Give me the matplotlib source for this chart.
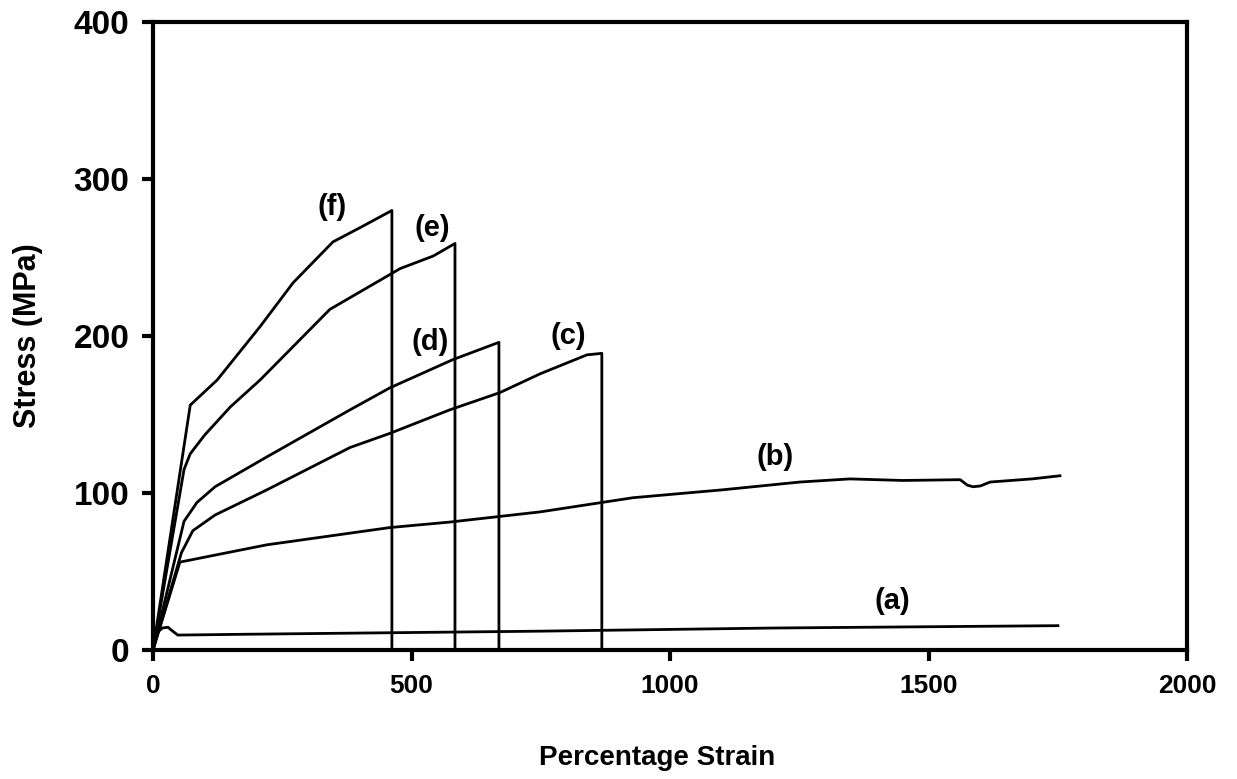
import matplotlib.pyplot as plt
import numpy as np

plt.rcParams['font.family'] = ['Liberation Sans', 'DejaVu Sans']

# stress-strain curves (strain %, stress MPa)
a_x = [0, 8, 18, 29, 38, 48, 172, 749, 1200, 1750]
a_y = [0, 11, 14, 14.5, 12, 9.5, 10, 12, 14, 15.5]

b_x = [0, 52, 220, 458, 574, 749, 928, 1100, 1251, 1348, 1450, 1561, 1575, 1586, 1600, 1619, 1700, 1754]
b_y = [0, 56, 67, 78, 81.5, 88, 97, 102, 107, 109, 108, 108.5, 105, 104, 104.5, 107, 109, 111]

c_x = [0, 55, 77, 120, 220, 381, 458, 574, 671, 749, 839, 868, 868]
c_y = [0, 62, 76, 86, 102, 129, 138, 153, 164, 176, 188, 189, 0]

d_x = [0, 60, 85, 120, 220, 381, 458, 580, 669, 669]
d_y = [0, 82, 94, 104, 123, 153, 167, 185, 196, 0]

e_x = [0, 60, 72, 100, 150, 207, 342, 478, 542, 584, 584]
e_y = [0, 115, 125, 137, 155, 172, 217, 243, 251, 259, 0]

f_x = [0, 72, 124, 207, 271, 348, 400, 462, 462]
f_y = [0, 156, 172, 206, 234, 260, 269, 280, 0]

curves = [(a_x, a_y), (b_x, b_y), (c_x, c_y), (d_x, d_y), (e_x, e_y), (f_x, f_y)]

# curve labels and where they sit
labels = ['(a)', '(b)', '(c)', '(d)', '(e)', '(f)']
label_x = [1429, 1203, 803, 536, 540, 346]
label_y = [31, 123, 200, 196, 269, 282]

fig = plt.figure(figsize=(12.37, 7.79), dpi=100)
ax = fig.add_axes([0.1237, 0.1656, 0.836, 0.806])

for cx, cy in curves:
    ax.plot(cx, cy, color='black', linewidth=2.0)

for lab, lx, ly in zip(labels, label_x, label_y):
    ax.text(lx, ly, lab, fontsize=21, fontweight='bold', ha='center', va='center')

ax.set_xlim(0, 2000)
ax.set_ylim(0, 400)
ax.set_xticks([0, 500, 1000, 1500, 2000])
ax.set_yticks([0, 100, 200, 300, 400])

for s in ax.spines.values():
    s.set_linewidth(3)
ax.tick_params(direction='out', length=8, width=3, pad=9)
ax.set_xticklabels(['0', '500', '1000', '1500', '2000'], fontsize=19, fontweight='bold')
ax.set_yticklabels(['0', '100', '200', '300', '400'], fontsize=24, fontweight='bold')

ax.set_xlabel('Percentage Strain', fontsize=20, fontweight='bold')
ax.xaxis.set_label_coords(0.487, -0.152)
ax.set_ylabel('Stress (MPa)', fontsize=22, fontweight='bold')
ax.yaxis.set_label_coords(-0.106, 0.5)

fig.savefig('out.png', dpi=100)
